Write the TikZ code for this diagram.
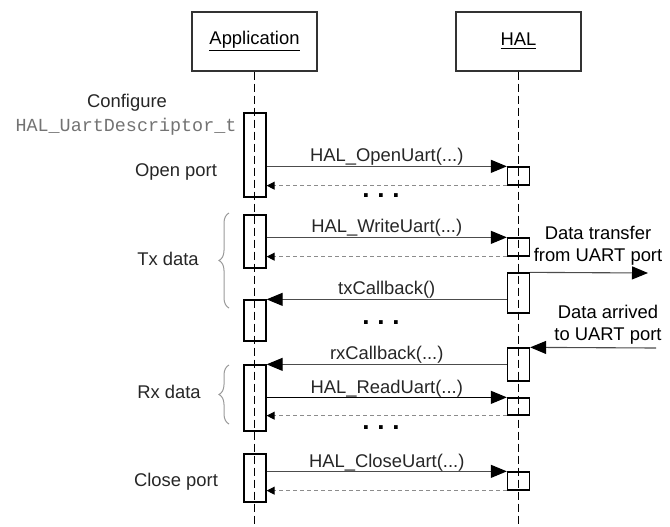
\documentclass[tikz,border=0pt]{standalone}
\usepackage{fontspec}
\setmainfont{Liberation Sans}
\setmonofont{Liberation Mono}
\usetikzlibrary{arrows.meta}
\usetikzlibrary{decorations.pathreplacing}
\tikzset{
	head/.style={draw=black!80, line width=0.55pt, minimum width=62.5pt, minimum height=29.5pt, inner sep=0pt},
	life/.style={draw=black, line width=0.55pt, dash pattern=on 4pt off 2pt},
	act/.style={draw=black, line width=0.65pt, minimum width=11pt, inner sep=0pt},
	call/.style={draw=black!70, line width=0.55pt, -{Triangle[length=8pt, width=6.5pt, color=black]}},
	ret/.style={draw=black!45, line width=0.5pt, dash pattern=on 2pt off 1.5pt, -{Triangle[length=4pt, width=4pt, color=black]}},
	msg/.style={above, inner sep=0pt, text=black!85},
	side/.style={anchor=center, text=black!85},
	dots/.style={anchor=center, font=\fontsize{13}{13}\selectfont\bfseries},
	bracegray/.style={draw=black!40, line width=0.5pt, decorate, decoration={brace, amplitude=5pt}}
}
\begin{document}
\begin{tikzpicture}[x=0.5pt, y=-0.5pt, font=\fontsize{9.2}{11}\selectfont]
		\useasboundingbox (0, 0) rectangle (670, 526);
		\node(app)[head] at (254.5, 41.5) {\underline{Application}};
		\node(hal)[head] at (518.5, 41.5) {\underline{HAL}};
		\coordinate (append) at (254.5, 526);
		\coordinate (halend) at (518.5, 526);
		\draw[life] (app.south) -- (append);
		\draw[life] (hal.south) -- (halend);
		%%%%%%%
		\node(a1)[act, minimum height=42pt] at (255, 155) {};
		\node(a2)[act, minimum height=26.5pt] at (255, 241.5) {};
		\node(a3)[act, minimum height=20.5pt] at (255, 320.5) {};
		\node(a4)[act, minimum height=33pt] at (255, 398) {};
		\node(a5)[act, minimum height=24pt] at (255, 478) {};
		%%%%%%%
		\node(h1)[act, minimum height=9pt] at (518.5, 176) {};
		\node(h2)[act, minimum height=9pt] at (518.5, 247) {};
		\node(h3)[act, minimum height=20pt] at (518.5, 293) {};
		\node(h4)[act, minimum height=16.5pt] at (518.5, 364.5) {};
		\node(h5)[act, minimum height=8.5pt] at (518.5, 406.5) {};
		\node(h6)[act, minimum height=9pt] at (518.5, 481) {};
		%%%%%%%
		\node(cfg)[side] at (127, 103) {Configure};
		\node(desc)[side, text=black!55, font=\fontsize{9.2}{11}\ttfamily] at (126, 127) {HAL\_UartDescriptor\_t};
		\node(open)[side] at (176, 172) {Open port};
		\node(tx)[side] at (168, 259) {Tx data};
		\node(rx)[side] at (169, 392) {Rx data};
		\node(close)[side] at (176, 482) {Close port};
		\draw[bracegray] (229, 308) -- (229, 213);
		\draw[bracegray] (229, 424) -- (229, 365);
		%%%%%%%
		\draw[call] (a1.east |- h1.north west) -- node[msg]{HAL\_OpenUart(...)} (h1.north west);
		\draw[ret] (h1.south west) -- (a1.east |- h1.south west);
		\node(dots1)[dots] at (381, 196) {.\hspace{0.3em}.\hspace{0.3em}.};
		%%%%%%%
		\draw[call] (a2.east |- h2.north west) -- node[msg]{HAL\_WriteUart(...)} (h2.north west);
		\draw[ret] (h2.south west) -- (a2.east |- h2.south west);
		\draw[call] (h3.west |- a3.north east) -- node[msg]{txCallback()} (a3.north east);
		\coordinate (txout) at (648, 273);
		\draw[call] (h3.north east) -- (txout);
		\node(txnote)[anchor=center, align=center] at (598, 246) {Data transfer\\from UART port};
		\node(dots2)[dots] at (381, 323) {.\hspace{0.3em}.\hspace{0.3em}.};
		%%%%%%%
		\coordinate (rxin) at (656, 348);
		\draw[call] (rxin) -- (h4.north east);
		\node(rxnote)[anchor=center, align=center] at (608, 325) {Data arrived\\to UART port};
		\draw[call] (h4.west |- a4.north east) -- node[msg]{rxCallback(...)} (a4.north east);
		\draw[call, draw=black] (a4.east |- h5.north west) -- node[msg]{HAL\_ReadUart(...)} (h5.north west);
		\draw[ret] (h5.south west) -- (a4.east |- h5.south west);
		\node(dots3)[dots] at (381, 428) {.\hspace{0.3em}.\hspace{0.3em}.};
		%%%%%%%
		\draw[call] (a5.east |- h6.north west) -- node[msg]{HAL\_CloseUart(...)} (h6.north west);
		\draw[ret] (h6.south west) -- (a5.east |- h6.south west);
		\end{tikzpicture}
\end{document}
